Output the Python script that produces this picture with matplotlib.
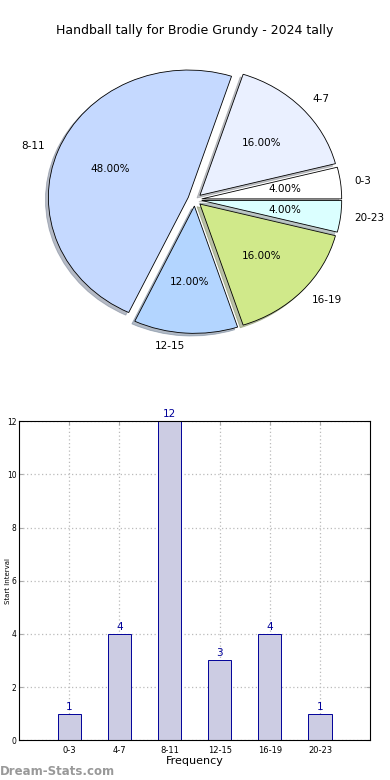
import matplotlib
matplotlib.use("Agg")
import matplotlib.pyplot as plt
import numpy as np

# tally per quarter interval
categories = ["0-3", "4-7", "8-11", "12-15", "16-19", "20-23"]
counts = [1, 4, 12, 3, 4, 1]
pie_colors = ["#ffffff", "#eaf0ff", "#c5d9ff", "#b3d5ff", "#d0e98a", "#dbffff"]

fig = plt.figure(figsize=(3.9, 7.8), dpi=100)
fig.patch.set_facecolor("white")

# --- pie ---
ax1 = fig.add_axes([0.051, 0.54, 0.897, 0.408])
ax1.pie(counts, labels=categories, colors=pie_colors, autopct="%1.2f%%",
        explode=[0.05] * len(counts), startangle=0,
        shadow={"ox": -0.015, "oy": -0.015, "shade": 0.45},
        wedgeprops={"edgecolor": "black", "linewidth": 0.6},
        textprops={"fontsize": 7.5})
ax1.set_aspect("auto")
ax1.set_xlim(-1.25, 1.25)
ax1.set_ylim(-1.25, 1.25)
fig.text(0.5, 0.961, "Handball tally for Brodie Grundy - 2024 tally",
         ha="center", va="center", fontsize=9)

# --- bars ---
ax2 = fig.add_axes([0.049, 0.051, 0.9, 0.409])
x = np.arange(len(categories))
ax2.bar(x, counts, 0.46, color="#ccccE3", edgecolor="#000099",
        linewidth=0.7, zorder=2)
for xi, c in zip(x, counts):
    ax2.text(xi, c + 0.08, str(c), ha="center", va="bottom",
             color="#000099", fontsize=7.5)
ax2.set_xlim(-1, 6)
ax2.set_ylim(0, 12)
ax2.set_xticks(x)
ax2.set_xticklabels(categories, fontsize=6)
ax2.set_yticks(range(0, 13, 2))
ax2.tick_params(axis="y", labelsize=5.5, pad=2)
ax2.tick_params(axis="x", pad=4)
ax2.tick_params(direction="in", top=True, right=True, length=3,
                color="#aaaaaa")
ax2.grid(True, linestyle=(0, (1, 2)), color="#bbbbbb", linewidth=0.9, zorder=0)
ax2.set_xlabel("Frequency", fontsize=8, labelpad=1)
ax2.set_ylabel("Start Interval", fontsize=5)
ax2.yaxis.set_label_coords(-0.022, 0.5)

fig.text(0.0, 0.002, "Dream-Stats.com", color="#999999", fontsize=8.5,
         fontweight="bold", ha="left", va="bottom")

fig.savefig("out.png", dpi=100, facecolor="white")
